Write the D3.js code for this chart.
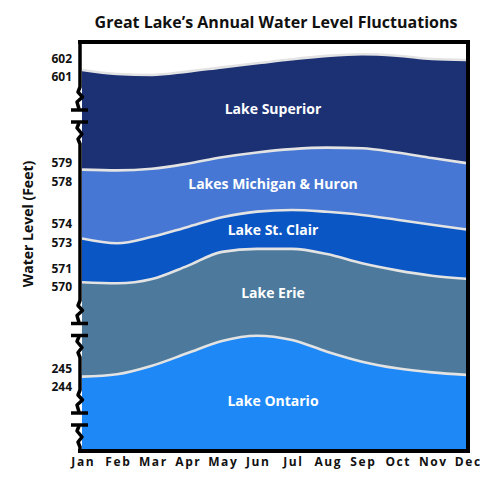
<!DOCTYPE html>
<html>
<head>
<meta charset="utf-8">
<script src="https://cdn.jsdelivr.net/npm/d3@7"></script>
<style>
  html, body { margin: 0; padding: 0; background: #fff; }
  svg { display: block; font-family: "Open Sans", "Noto Sans", sans-serif; }
</style>
</head>
<body>
<svg id="chart" width="500" height="480"></svg>
<script>
// ---------------- DATA ----------------
const months = ["Jan","Feb","Mar","Apr","May","Jun","Jul","Aug","Sep","Oct","Nov","Dec"];
const lakeNames = ["Lake Superior","Lakes Michigan & Huron","Lake St. Clair","Lake Erie","Lake Ontario"];
const superior      = [601.38, 601.16, 601.11, 601.29, 601.52, 601.74, 601.96, 602.14, 602.23, 602.15, 601.97, 601.92];
const michiganHuron = [578.64, 578.60, 578.69, 578.96, 579.31, 579.57, 579.75, 579.83, 579.80, 579.57, 579.27, 578.99];
const stClair       = [573.22, 572.96, 573.31, 573.83, 574.36, 574.67, 574.76, 574.66, 574.49, 574.23, 573.96, 573.70];
const erie          = [570.26, 570.20, 570.43, 571.13, 571.90, 572.06, 572.06, 571.78, 571.28, 570.90, 570.61, 570.44];
const ontario       = [244.56, 244.69, 245.15, 245.82, 246.49, 246.77, 246.54, 245.91, 245.37, 245.01, 244.79, 244.65];
const tickSuperior  = [601, 602];
const tickMichHuron = [578, 579];
const tickStClair   = [573, 574];
const tickErie      = [570, 571];
const tickOntario   = [244, 245];

// ---------------- LAYOUT / STYLE ----------------
const W = 500, H = 480;
const frame = { left: 80, right: 468, top: 42, bottom: 451 };
const pxPerFoot = 18.5;
// pixel position of each segment's lower tick (broken axis segments)
const segAnchor = [77, 181.5, 242.5, 287, 387];
const colors = ["#1b3174", "#4677d4", "#0a56c5", "#4d7a9c", "#1e88f6"];
const labelY = [109, 184, 230, 293, 401];
const breaks = [116, 329.5, 419];

const seriesList = [superior, michiganHuron, stClair, erie, ontario];
const tickList = [tickSuperior, tickMichHuron, tickStClair, tickErie, tickOntario];

const svg = d3.select("#chart");

const x = d3.scalePoint().domain(months).range([82, 467]);

const lakes = lakeNames.map((name, i) => {
  const t0 = tickList[i][0];
  const y = d3.scaleLinear().domain([t0, t0 + 1]).range([segAnchor[i], segAnchor[i] - pxPerFoot]);
  return { name, values: seriesList[i], ticks: tickList[i], y, color: colors[i], labelY: labelY[i] };
});

// clip to plot interior
svg.append("defs").append("clipPath").attr("id", "plotClip")
  .append("rect")
  .attr("x", 82).attr("y", frame.top + 2)
  .attr("width", frame.right - 2 - 82)
  .attr("height", frame.bottom - 2 - (frame.top + 2));

const plot = svg.append("g").attr("clip-path", "url(#plotClip)");

lakes.forEach(lk => {
  const area = d3.area()
    .x((d, j) => x(months[j]))
    .y0(frame.bottom)
    .y1(d => lk.y(d))
    .curve(d3.curveMonotoneX);
  const line = d3.line()
    .x((d, j) => x(months[j]))
    .y(d => lk.y(d))
    .curve(d3.curveMonotoneX);
  plot.append("path").datum(lk.values)
    .attr("d", area).attr("fill", lk.color);
  plot.append("path").datum(lk.values)
    .attr("d", line).attr("fill", "none")
    .attr("stroke", "#e3e3e3").attr("stroke-width", 2.6);
});

// lake labels
svg.append("g").selectAll("text").data(lakes).join("text")
  .attr("x", 273).attr("y", d => d.labelY)
  .attr("dy", "0.35em")
  .attr("text-anchor", "middle")
  .attr("fill", "#fff")
  .attr("font-size", 14).attr("font-weight", 700)
  .text(d => d.name);

// frame (top, right, bottom)
svg.append("path")
  .attr("d", `M${frame.left},${frame.top} H${frame.right} V${frame.bottom} H${frame.left}`)
  .attr("fill", "none").attr("stroke", "#000").attr("stroke-width", 4)
  .attr("stroke-linecap", "square");

// left axis with break marks
function leftAxisPath() {
  const L = frame.left;
  let p = `M${L},${frame.top - 2}`;
  breaks.forEach(b => {
    p += ` L${L},${b - 29} L${L - 2},${b - 24} L${L + 2.5},${b - 19} L${L - 3},${b - 14} L${L - 1},${b - 7}`;
    p += ` M${L - 1},${b + 7} L${L - 3},${b + 12} L${L + 2},${b + 18} L${L - 2},${b + 23} L${L},${b + 28}`;
  });
  p += ` L${L},${frame.bottom + 2}`;
  return p;
}
svg.append("path").attr("d", leftAxisPath())
  .attr("fill", "none").attr("stroke", "#000").attr("stroke-width", 3.5)
  .attr("stroke-linejoin", "round");
const breakTicks = svg.append("g");
breaks.forEach(b => {
  [b - 6, b + 6].forEach(yy => {
    breakTicks.append("line")
      .attr("x1", frame.left - 9).attr("x2", frame.left + 8)
      .attr("y1", yy).attr("y2", yy)
      .attr("stroke", "#000").attr("stroke-width", 3.5);
  });
});

// y tick labels per segment
lakes.forEach(lk => {
  const g = svg.append("g")
    .attr("transform", `translate(72,0)`)
    .call(d3.axisLeft(lk.y).tickValues(lk.ticks).tickSize(0).tickPadding(0).tickFormat(d3.format("d")));
  g.select(".domain").remove();
  g.selectAll("text")
    .attr("font-family", "Open Sans, sans-serif")
    .attr("font-size", 12).attr("font-weight", 700).attr("fill", "#111");
});

// x axis month labels
const xg = svg.append("g")
  .attr("transform", `translate(0,${frame.bottom})`)
  .call(d3.axisBottom(x).tickSize(0).tickPadding(6));
xg.select(".domain").remove();
xg.selectAll("text")
  .attr("font-family", "Open Sans, sans-serif")
  .attr("font-size", 12).attr("font-weight", 700).attr("fill", "#111")
  .attr("letter-spacing", "1.6px")
  .attr("dx", "0.8px");

// title
svg.append("text")
  .attr("x", 276).attr("y", 28)
  .attr("text-anchor", "middle")
  .attr("font-size", 16).attr("font-weight", 700).attr("fill", "#111")
  .text("Great Lake’s Annual Water Level Fluctuations");

// y axis title
svg.append("text")
  .attr("transform", "translate(33,224) rotate(-90)")
  .attr("text-anchor", "middle")
  .attr("font-size", 14).attr("font-weight", 700).attr("fill", "#111")
  .text("Water Level (Feet)");
</script>
</body>
</html>
